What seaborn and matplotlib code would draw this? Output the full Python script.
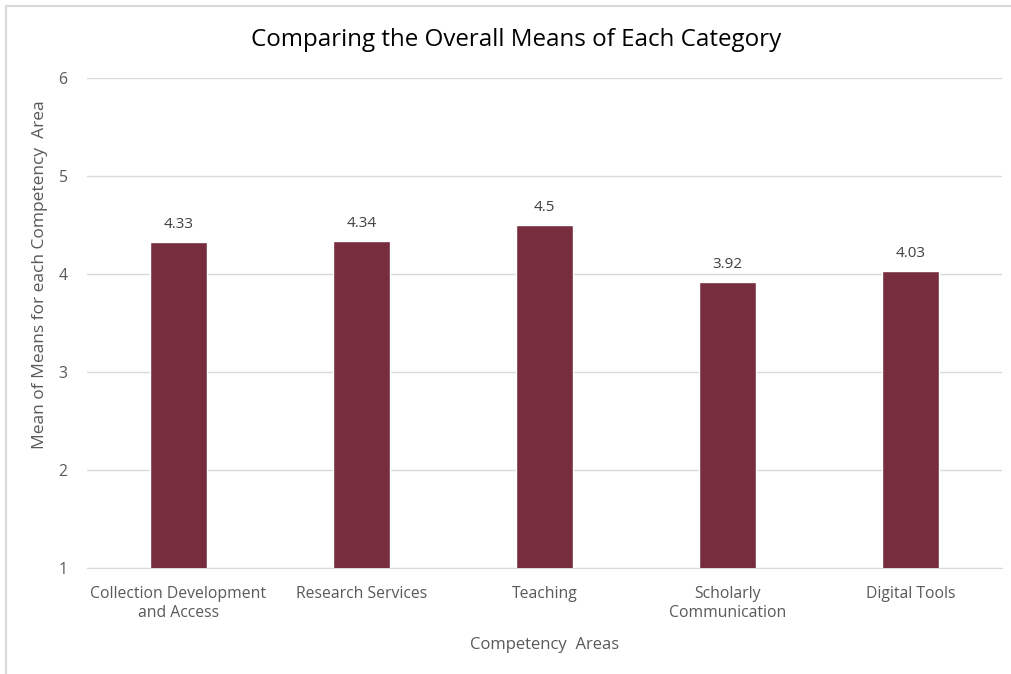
import pandas as pd
import seaborn as sns
import matplotlib.pyplot as plt
from matplotlib.lines import Line2D

categories = ['Collection Development\nand Access', 'Research Services', 'Teaching',
              'Scholarly\nCommunication', 'Digital Tools']
means = [4.33, 4.34, 4.5, 3.92, 4.03]
labels = ['4.33', '4.34', '4.5', '3.92', '4.03']
yticks = [1, 2, 3, 4, 5, 6]

data = pd.DataFrame({'area': categories, 'mean': means})

sns.set_style('white')
plt.rcParams['font.family'] = ['Open Sans', 'DejaVu Sans']

fig = plt.figure(figsize=(10.11, 6.74), dpi=100)
ax = fig.add_axes([87/1011, (674-568)/674, (1002-87)/1011, (568-78)/674])

sns.barplot(x='area', y='mean', data=data, color='#772D3E', width=0.31,
            saturation=1, ax=ax, zorder=3)

ax.set_ylim(1, 6)
ax.set_yticks(yticks)
ax.set_xlim(-0.5, len(categories) - 0.5)
ax.grid(axis='y', color='#D9D9D9', linewidth=1, zorder=0)
ax.grid(axis='x', visible=False)
for s in ['top', 'right', 'left']:
    ax.spines[s].set_visible(False)
ax.spines['bottom'].set_color('#D9D9D9')
ax.tick_params(axis='both', length=0, labelsize=11.3, labelcolor='#595959')
ax.tick_params(axis='y', pad=14)
ax.tick_params(axis='x', pad=13)
for t in ax.get_xticklabels():
    t.set_linespacing(1.25)

for i, (v, t) in enumerate(zip(means, labels)):
    ax.text(i, v + 0.1, t, ha='center', va='bottom', fontsize=11, color='#404040')

ax.set_xlabel('Competency  Areas', fontsize=12, color='#595959', labelpad=11.5)
ax.set_ylabel('Mean of Means for each Competency  Area', fontsize=12.5, color='#595959')
ax.yaxis.set_label_coords((48-87)/915, (568-275)/490)
fig.suptitle('Comparing the Overall Means of Each Category', fontsize=17.4,
             color='#000000', x=516/1011, y=(674-40)/674, va='center')

# chart border like the spreadsheet frame
fig.add_artist(Line2D([6/1011, 1], [1-6/674, 1-6/674], color='#D9D9D9', lw=1.5))
fig.add_artist(Line2D([6/1011, 6/1011], [0, 1-6/674], color='#D9D9D9', lw=1.5))

fig.savefig('out.png', dpi=100)
